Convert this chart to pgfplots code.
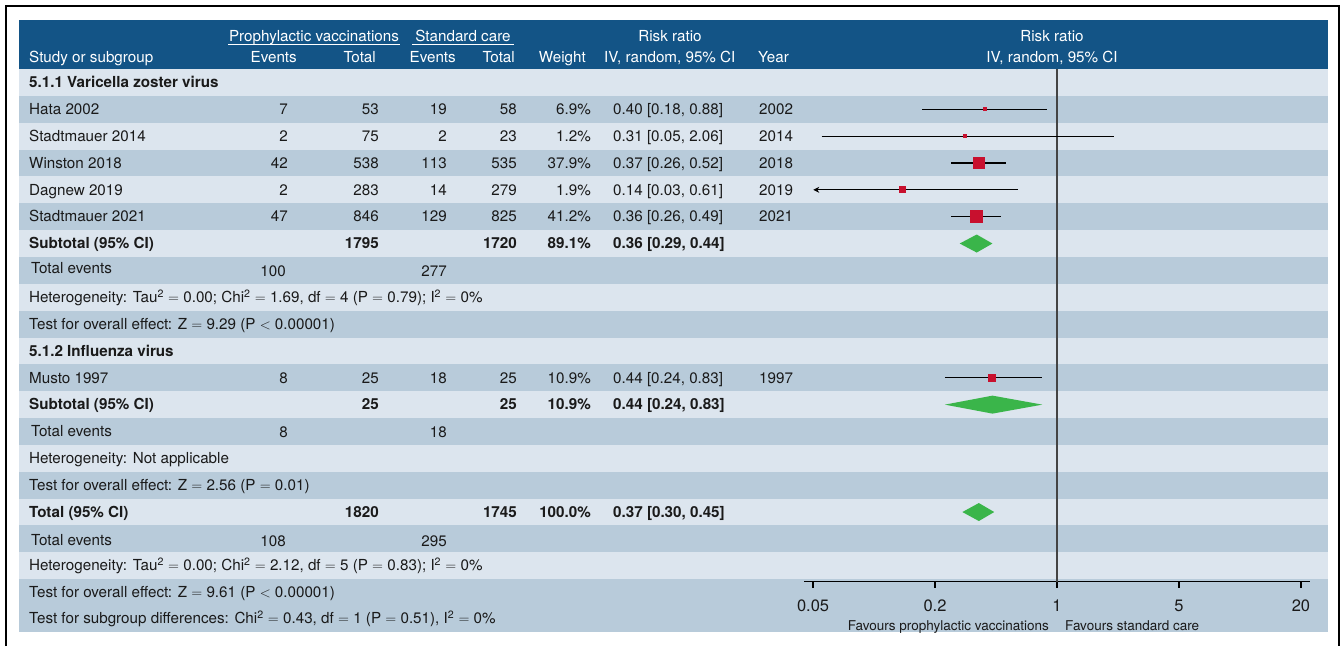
\documentclass[border=0pt]{standalone}
\usepackage{pgfplots}
\pgfplotsset{compat=1.18}
\usepackage{fontspec}
\setmainfont{TeX Gyre Heros}
\usetikzlibrary{arrows.meta}
\definecolor{hdr}{HTML}{135486}
\definecolor{rowL}{HTML}{DCE5EE}
\definecolor{rowD}{HTML}{B8CBDA}
\definecolor{sq}{HTML}{C8102E}
\definecolor{dia}{HTML}{3AB54A}
\definecolor{vline}{HTML}{444444}
\definecolor{txt}{HTML}{1A1A1A}
\newcommand\fs{\fontsize{15.2}{18}\selectfont}
\newcommand\T[3]{\node[anchor=base west,font=\fs,text=txt,inner sep=0pt] at (#1,#2) {#3};}
\newcommand\R[3]{\node[anchor=base east,font=\fs,text=txt,inner sep=0pt] at (#1,#2) {#3};}
\newcommand\HL[3]{\node[anchor=base west,font=\fs,text=white,inner sep=0pt] at (#1,#2) {#3};}
\newcommand\HR[3]{\node[anchor=base east,font=\fs,text=white,inner sep=0pt] at (#1,#2) {#3};}
\newcommand\HC[3]{\node[anchor=base,font=\fs,text=white,inner sep=0pt] at (#1,#2) {#3};}
\newcommand\study[9]{\T{29}{#1}{#2}\R{288}{#1}{#3}\R{379}{#1}{#4}\R{447}{#1}{#5}\R{517}{#1}{#6}\R{591}{#1}{#7}\T{613}{#1}{#8}\T{759}{#1}{#9}}
\newcommand\sq{\textsuperscript{2}}
\newcommand\eq{$=$}
\newcommand\lt{$<$}
\begin{document}
\begin{tikzpicture}
\begin{scope}[x=1pt,y=-1pt]
\fill[white] (0,0) rectangle (1342,646);
\fill[hdr] (19,20) rectangle (1328,69);
\foreach \k in {1,...,19}{
  \pgfmathsetmacro\ya{69+(\k-1)*26.85}
  \pgfmathsetmacro\yb{69+\k*26.85}
  \pgfmathtruncatemacro\odd{mod(\k,2)}
  \ifnum\odd=1 \fill[rowL] (19,\ya) rectangle (1328,\yb); \else \fill[rowD] (19,\ya) rectangle (1328,\yb); \fi
}
\fill[rowD] (19,579.15) rectangle (1328,632);
\draw[black,line width=2pt] (6,646) -- (6,6) -- (1339,6) -- (1339,646);
% header
\HC{314}{41}{Prophylactic vaccinations}
\draw[white,line width=1pt] (228,44.5) -- (400,44.5);
\HC{463}{41}{Standard care}
\draw[white,line width=1pt] (412,44.5) -- (514,44.5);
\HC{670}{41}{Risk ratio}
\HC{1052}{41}{Risk ratio}
\HL{29}{62.7}{Study or subgroup}
\HR{297}{62.7}{Events}
\HR{376}{62.7}{Total}
\HR{456}{62.7}{Events}
\HR{515}{62.7}{Total}
\HR{586}{62.7}{Weight}
\HL{604}{62.7}{IV, random, 95\% CI}
\HL{758}{62.7}{Year}
\HC{1052}{62.7}{IV, random, 95\% CI}
% body
\T{29}{87.6}{\bfseries 5.1.1 Varicella zoster virus}
\study{114.5}{Hata 2002}{7}{53}{19}{58}{6.9\%}{0.40 [0.18, 0.88]}{2002}
\study{141.3}{Stadtmauer 2014}{2}{75}{2}{23}{1.2\%}{0.31 [0.05, 2.06]}{2014}
\study{168.2}{Winston 2018}{42}{538}{113}{535}{37.9\%}{0.37 [0.26, 0.52]}{2018}
\study{195.0}{Dagnew 2019}{2}{283}{14}{279}{1.9\%}{0.14 [0.03, 0.61]}{2019}
\study{221.9}{Stadtmauer 2021}{47}{846}{129}{825}{41.2\%}{0.36 [0.26, 0.49]}{2021}
\study{248.7}{\bfseries Subtotal (95\% CI)}{}{\bfseries 1795}{}{\bfseries 1720}{\bfseries 89.1\%}{\bfseries 0.36 [0.29, 0.44]}{}
\T{31}{273.6}{Total events}\R{286}{276.8}{100}\R{447}{276.8}{277}
\T{29}{302.4}{Heterogeneity: Tau\sq{} \eq{} 0.00; Chi\sq{} \eq{} 1.69, df \eq{} 4 (P \eq{} 0.79); I\sq{} \eq{} 0\%}
\T{29}{329.3}{Test for overall effect: Z \eq{} 9.29 (P \lt{} 0.00001)}
\T{29}{356.1}{\bfseries 5.1.2 Influenza virus}
\study{383.0}{Musto 1997}{8}{25}{18}{25}{10.9\%}{0.44 [0.24, 0.83]}{1997}
\study{409.8}{\bfseries Subtotal (95\% CI)}{}{\bfseries 25}{}{\bfseries 25}{\bfseries 10.9\%}{\bfseries 0.44 [0.24, 0.83]}{}
\T{31}{436.7}{Total events}\R{288}{437.2}{8}\R{447}{437.2}{18}
\T{29}{463.5}{Heterogeneity: Not applicable}
\T{29}{490.4}{Test for overall effect: Z \eq{} 2.56 (P \eq{} 0.01)}
\study{517.2}{\bfseries Total (95\% CI)}{}{\bfseries 1820}{}{\bfseries 1745}{\bfseries 100.0\%}{\bfseries 0.37 [0.30, 0.45]}{}
\T{31}{545.0}{Total events}\R{286}{546.0}{108}\R{447}{546.0}{295}
\T{29}{570.9}{Heterogeneity: Tau\sq{} \eq{} 0.00; Chi\sq{} \eq{} 2.12, df \eq{} 5 (P \eq{} 0.83); I\sq{} \eq{} 0\%}
\T{29}{597.5}{Test for overall effect: Z \eq{} 9.61 (P \lt{} 0.00001)}
\T{29}{623.5}{Test for subgroup differences: Chi\sq{} \eq{} 0.43, df \eq{} 1 (P \eq{} 0.51), I\sq{} \eq{} 0\%}
\node[anchor=base east,font=\fontsize{13.5}{16}\selectfont,text=txt,inner sep=0pt] at (1049,630.5) {Favours prophylactic vaccinations};
\node[anchor=base west,font=\fontsize{13.5}{16}\selectfont,text=txt,inner sep=0pt] at (1065,630.5) {Favours standard care};
\end{scope}
\begin{axis}[
 at={(804pt,-581.5pt)}, anchor=south west,
 width=506pt, height=512.5pt, scale only axis,
 xmode=log, xmin=0.04, xmax=25,
 ymin=0.4125, ymax=19.5,
 axis x line*=bottom, axis y line=none,
 axis line style={black, line width=1.3pt},
 xtick={0.0449,0.2118,1,4.72,22.27},
 xticklabels={0.05,0.2,1,5,20},
 xminorticks=false,
 tick align=outside, major tick length=6pt,
 every tick/.style={black, line width=1.3pt},
 xticklabel style={font=\fontsize{16.5}{19}\selectfont, text=txt, yshift=-9pt},
 clip=false,
]
% line of no effect
\addplot[vline, line width=2pt] coordinates {(1,0.4125) (1,19.5)};
% confidence intervals
\addplot[black, line width=1.2pt] coordinates {(0.18,18) (0.88,18)};
\addplot[black, line width=1.2pt] coordinates {(0.05,17) (2.06,17)};
\addplot[black, line width=1.2pt] coordinates {(0.26,16) (0.52,16)};
\addplot[black, line width=1.2pt, -{Stealth[length=6pt,width=6pt]}] coordinates {(0.61,15) (0.045,15)};
\addplot[black, line width=1.2pt] coordinates {(0.26,14) (0.49,14)};
\addplot[black, line width=1.2pt] coordinates {(0.24,8) (0.83,8)};
% point estimates (size by weight)
\addplot[only marks, mark=square*, mark size=1.6pt, mark options={fill=sq, draw=sq, line width=0pt}] coordinates {(0.40,18)};
\addplot[only marks, mark=square*, mark size=1.5pt, mark options={fill=sq, draw=sq, line width=0pt}] coordinates {(0.31,17)};
\addplot[only marks, mark=square*, mark size=5.5pt, mark options={fill=sq, draw=sq, line width=0pt}] coordinates {(0.37,16)};
\addplot[only marks, mark=square*, mark size=3pt, mark options={fill=sq, draw=sq, line width=0pt}] coordinates {(0.14,15)};
\addplot[only marks, mark=square*, mark size=6pt, mark options={fill=sq, draw=sq, line width=0pt}] coordinates {(0.36,14)};
\addplot[only marks, mark=square*, mark size=3.5pt, mark options={fill=sq, draw=sq, line width=0pt}] coordinates {(0.44,8)};
% pooled diamonds
\addplot[fill=dia, draw=none] coordinates {(0.29,13) (0.36,13.335) (0.44,13) (0.36,12.665)} -- cycle;
\addplot[fill=dia, draw=none] coordinates {(0.24,7) (0.44,7.335) (0.83,7) (0.44,6.665)} -- cycle;
\addplot[fill=dia, draw=none] coordinates {(0.30,3) (0.37,3.335) (0.45,3) (0.37,2.665)} -- cycle;
\end{axis}
\pgfresetboundingbox
\useasboundingbox (0,0) rectangle (1342pt,-646pt);
\end{tikzpicture}
\end{document}
